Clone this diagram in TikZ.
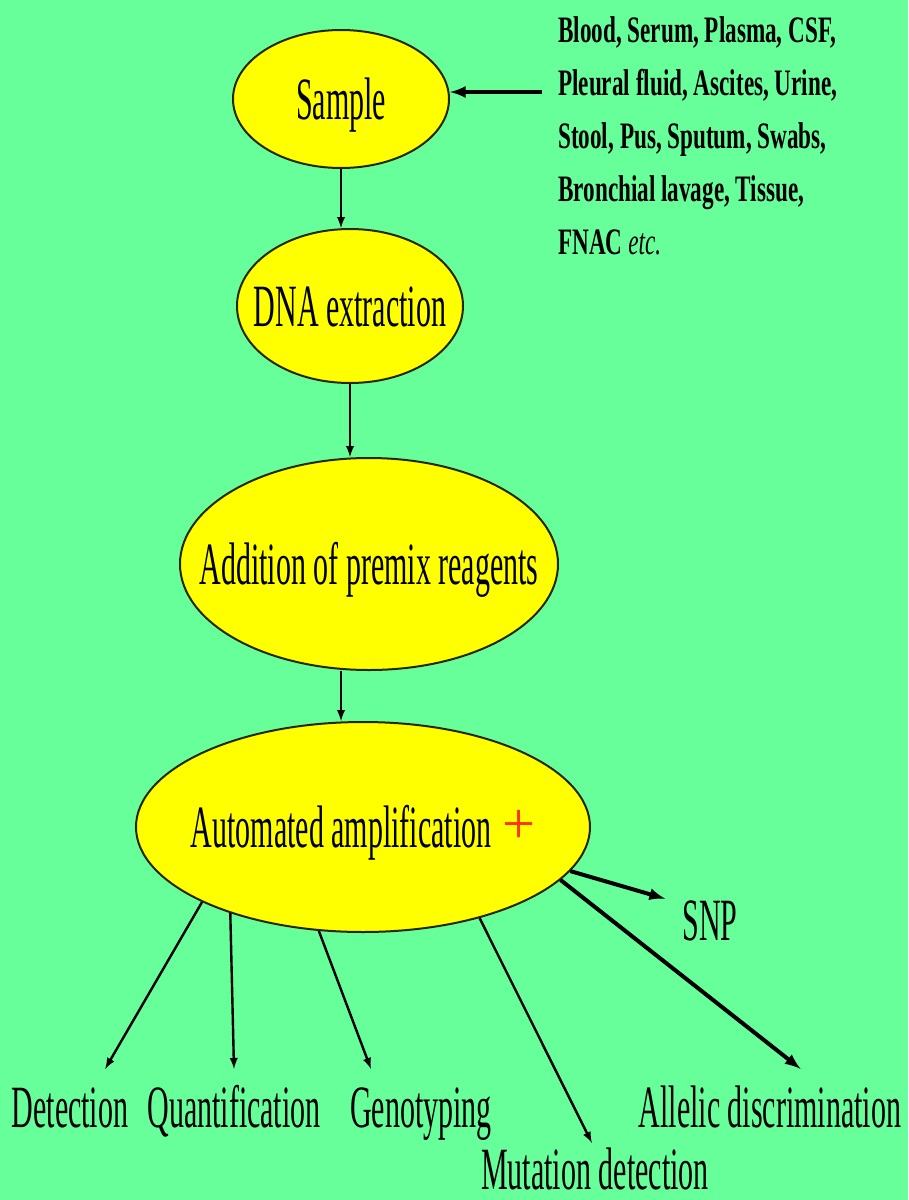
\documentclass[tikz,border=0pt]{standalone}
\usepackage{fontspec}
\setmainfont[FakeStretch=0.5]{Liberation Serif}
\newfontfamily\sidefont[FakeStretch=0.62]{Liberation Serif}
\newfontfamily\plusfont{Liberation Serif}
\usetikzlibrary{shapes.geometric}

\definecolor{mint}{RGB}{102,255,153}
\definecolor{lemon}{RGB}{255,255,0}
\definecolor{rim}{RGB}{40,40,0}
\definecolor{plusred}{RGB}{255,51,0}
\newcommand{\stagetext}[1]{\makebox[0pt]{#1}}

\begin{document}
\begin{tikzpicture}[x=0.75pt,y=-0.75pt,
  stage/.style={ellipse,draw=rim,line width=1.5pt,fill=lemon,inner sep=0pt,text height=30pt,text depth=0pt,font=\fontsize{45}{54}\selectfont},
  outcome/.style={inner sep=0pt,outer sep=13pt,text height=30.6pt,text depth=0pt,anchor=base,font=\fontsize{45}{54}\selectfont},
  flow/.style={-latex,line width=1.8pt},
  bigflow/.style={-latex,line width=3pt}]
  \useasboundingbox[fill=mint] (0,0) rectangle (908,1200);

  % main chain
  \node[stage,minimum width=162pt,minimum height=103.5pt] (sample) at (341,99) {\stagetext{Sample}};
  \node[stage,minimum width=169.5pt,minimum height=115.5pt] (extraction) at (350,306) {\stagetext{DNA extraction}};
  \node[stage,minimum width=283.5pt,minimum height=159pt] (premix) at (369,564) {\stagetext{Addition of premix reagents}};
  \node[stage,minimum width=340.5pt,minimum height=157.5pt] (amplify) at (363,827)
    {\stagetext{Automated amplification\hspace{8pt}\raisebox{3pt}{\plusfont\fontsize{44}{50}\selectfont\color{plusred}+}}};

  % sample types
  \node[anchor=north west,inner sep=0pt,align=left,font=\sidefont\bfseries\fontsize{28}{39.75}\selectfont] (sources) at (558,16)
    {Blood, Serum, Plasma, CSF,\\ Pleural fluid, Ascites, Urine,\\ Stool, Pus, Sputum, Swabs,\\ Bronchial lavage, Tissue,\\ FNAC {\mdseries\itshape etc.}};

  % applications
  \node[outcome] (detect) at (70,1127) {Detection};
  \node[outcome] (quant) at (234,1127) {Quantification};
  \node[outcome] (geno) at (421,1127) {Genotyping};
  \node[outcome] (allelic) at (770,1127) {Allelic discrimination};
  \node[outcome,outer sep=4pt] (mutation) at (595,1189) {Mutation detection};
  \node[outcome] (snp) at (710,940) {SNP};

  \coordinate (feed) at (542,92);
  \draw[bigflow] (feed) -- (feed -| sample.east);
  \draw[flow] (sample.south) -- (sample.south |- extraction.north);
  \draw[flow] (extraction.south) -- (extraction.south |- premix.north);
  \draw[flow] (premix.south -| sample.south) -- (sample.south |- amplify.north);

  \draw[flow] (amplify.205) -- (detect.47);
  \draw[flow] (amplify.213) -- (quant.north);
  \draw[flow] (amplify.247) -- (geno.143);
  \draw[flow] (amplify.322) -- (mutation.97);
  \draw[bigflow] (amplify.345) -- (allelic.51);
  \draw[bigflow] (amplify.348) -- (snp.155);
\end{tikzpicture}
\end{document}
